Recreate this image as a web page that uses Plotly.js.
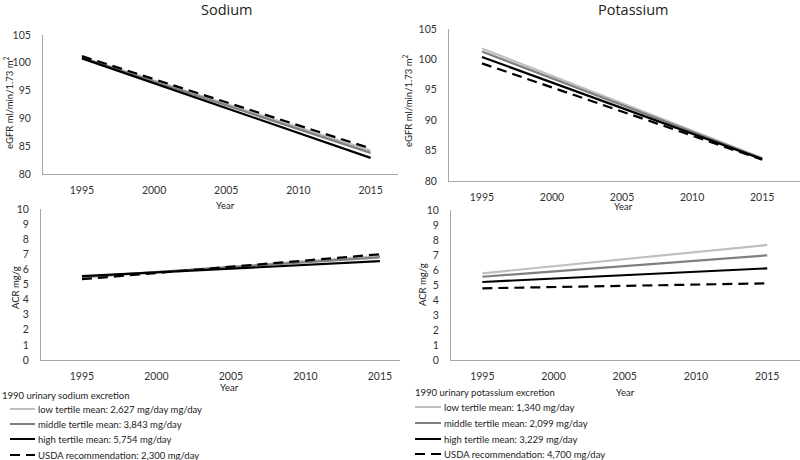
<!DOCTYPE html>
<html>
<head>
<meta charset="utf-8">
<script src="https://cdn.plot.ly/plotly-3.0.1.min.js"></script>
<style>
  body { margin: 0; background: #fff; }
  #chart { width: 800px; height: 460px; }
</style>
</head>
<body>
<div id="chart"></div>
<script>
// values (start and end of each fitted line)
var years = [1995, 2015];

var sodiumEgfrLow = [101.0, 84.2];
var sodiumEgfrMid = [100.9, 83.8];
var sodiumEgfrHigh = [100.8, 82.9];
var sodiumEgfrUsda = [101.2, 84.6];

var potassiumEgfrLow = [101.8, 83.8];
var potassiumEgfrMid = [101.3, 83.7];
var potassiumEgfrHigh = [100.4, 83.6];
var potassiumEgfrUsda = [99.35, 83.5];

var sodiumAcrLow = [5.45, 6.9];
var sodiumAcrMid = [5.5, 6.8];
var sodiumAcrHigh = [5.55, 6.55];
var sodiumAcrUsda = [5.35, 7.0];

var potassiumAcrLow = [5.78, 7.67];
var potassiumAcrMid = [5.55, 6.98];
var potassiumAcrHigh = [5.2, 6.11];
var potassiumAcrUsda = [4.78, 5.11];

var sodiumLabels = ["low tertile mean: 2,627 mg/day mg/day", "middle tertile mean: 3,843 mg/day",
    "high tertile mean: 5,754 mg/day", "USDA recommendation: 2,300 mg/day"];
var potassiumLabels = ["low tertile mean: 1,340 mg/day", "middle tertile mean: 2,099 mg/day",
    "high tertile mean: 3,229 mg/day", "USDA recommendation: 4,700 mg/day"];

var colors = ["#bfbfbf", "#7f7f7f", "#000000", "#000000"];
var dashes = ["solid", "solid", "solid", "10px,6px"];
var FONT = "Lato, 'Open Sans', sans-serif";

// pixel -> paper helpers
function px(x) { return x / 800; }
function py(y) { return 1 - y / 460; }

var panels = [
    { xa: "x", ya: "y", series: [sodiumEgfrLow, sodiumEgfrMid, sodiumEgfrHigh, sodiumEgfrUsda], names: sodiumLabels },
    { xa: "x2", ya: "y2", series: [potassiumEgfrLow, potassiumEgfrMid, potassiumEgfrHigh, potassiumEgfrUsda], names: potassiumLabels },
    { xa: "x3", ya: "y3", series: [sodiumAcrLow, sodiumAcrMid, sodiumAcrHigh, sodiumAcrUsda], names: sodiumLabels },
    { xa: "x4", ya: "y4", series: [potassiumAcrLow, potassiumAcrMid, potassiumAcrHigh, potassiumAcrUsda], names: potassiumLabels }
];

var data = [];
panels.forEach(function (p) {
    p.series.forEach(function (vals, i) {
        data.push({
            x: years,
            y: vals,
            name: p.names[i],
            xaxis: p.xa,
            yaxis: p.ya,
            type: "scatter",
            mode: "lines",
            line: { color: colors[i], width: 2.2, dash: dashes[i] },
            showlegend: false,
            hoverinfo: "x+y+name"
        });
    });
});

function xAxis(d0, d1, r0, r1, anchor) {
    return {
        domain: [px(d0), px(d1)], range: [r0, r1], anchor: anchor,
        tickvals: [1995, 2000, 2005, 2010, 2015],
        showline: true, linecolor: "#a6a6a6", linewidth: 1,
        showgrid: false, zeroline: false,
        ticks: "outside", ticklen: 6, tickcolor: "rgba(0,0,0,0)",
        tickfont: { family: FONT, size: 10.5, color: "#333" }
    };
}
function yAxis(d0, d1, r0, r1, dt, anchor) {
    return {
        domain: [py(d1), py(d0)], range: [r0, r1], dtick: dt, anchor: anchor,
        showline: true, linecolor: "#a6a6a6", linewidth: 1,
        showgrid: false, zeroline: false,
        ticks: "outside", ticklen: 9, tickcolor: "rgba(0,0,0,0)",
        tickfont: { family: FONT, size: 10.5, color: "#333" }
    };
}

var annotations = [];
function txt(x, y, text, size, opts) {
    var a = {
        xref: "paper", yref: "paper", x: px(x), y: py(y), text: text, showarrow: false,
        font: { family: FONT, size: size, color: "#222", weight: 400 }, xanchor: "center", yanchor: "middle"
    };
    for (var k in opts) a[k] = opts[k];
    annotations.push(a);
}

txt(227, 10, "Sodium", 15, { font: { family: "'Open Sans', sans-serif", size: 14.5, color: "#222", weight: 400 } });
txt(633, 9, "Potassium", 15, { font: { family: "'Open Sans', sans-serif", size: 14.5, color: "#222", weight: 400 } });
txt(8, 103, "eGFR ml/min/1.73 m<sup>2</sup>", 9.5, { textangle: -90 });
txt(408, 101, "eGFR ml/min/1.73 m<sup>2</sup>", 9.5, { textangle: -90 });
txt(15, 288, "ACR mg/g", 9.5, { textangle: -90 });
txt(422, 285, "ACR mg/g", 9.5, { textangle: -90 });
txt(225, 205, "Year", 9.5);
txt(623, 207, "Year", 9.5);
txt(230, 387, "Year", 9.5);
txt(625, 392, "Year", 9.5);

txt(0, 395, "1990 urinary sodium excretion", 9.5, { xanchor: "left" });
txt(413, 392, "1990 urinary potassium excretion", 9.5, { xanchor: "left" });

// hand-built legends (the built-in one cannot be packed this tightly)
var shapes = [];
var legRowsLeft = [409, 424, 439, 455];
var legRowsRight = [407, 423, 439, 454];
for (var i = 0; i < 4; i++) {
    var st = { color: colors[i], width: 2, dash: dashes[i] };
    shapes.push({ type: "line", xref: "paper", yref: "paper", x0: px(10), x1: px(35), y0: py(legRowsLeft[i]), y1: py(legRowsLeft[i]), line: st });
    shapes.push({ type: "line", xref: "paper", yref: "paper", x0: px(415), x1: px(441), y0: py(legRowsRight[i]), y1: py(legRowsRight[i]), line: st });
    txt(36, legRowsLeft[i], sodiumLabels[i], 9.5, { xanchor: "left" });
    txt(442, legRowsRight[i], potassiumLabels[i], 9.5, { xanchor: "left" });
}

var layout = {
    width: 800, height: 460,
    margin: { l: 0, r: 0, t: 0, b: 0 },
    paper_bgcolor: "#fff", plot_bgcolor: "#fff",
    showlegend: false,
    xaxis: xAxis(43, 398, 1992.3, 2016.9, "y"),
    yaxis: yAxis(35, 174, 80, 105, 5, "x"),
    xaxis2: xAxis(449, 800, 1992.65, 2017.7, "y2"),
    yaxis2: yAxis(29, 181, 80, 105, 5, "x2"),
    xaxis3: xAxis(41, 400, 1992.25, 2016.35, "y3"),
    yaxis3: yAxis(209, 360, 0, 10, 1, "x3"),
    xaxis4: xAxis(451, 800, 1992.8, 2017.3, "y4"),
    yaxis4: yAxis(210, 360, 0, 10, 1, "x4"),
    annotations: annotations,
    shapes: shapes
};

Plotly.newPlot("chart", data, layout, { staticPlot: true });
</script>
</body>
</html>
